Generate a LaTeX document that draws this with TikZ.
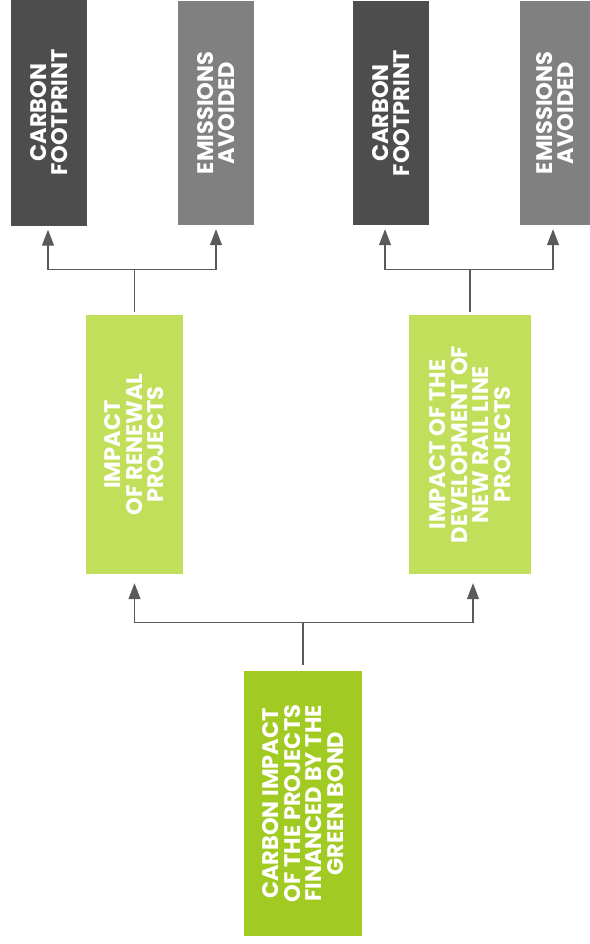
\documentclass[tikz,border=0pt]{standalone}
\usepackage{fontspec}
\setmainfont{Poppins}
\usetikzlibrary{arrows.meta}
\definecolor{darkbox}{HTML}{4D4D4D}
\definecolor{midbox}{HTML}{808080}
\definecolor{lightgreen}{HTML}{C2DF5B}
\definecolor{maingreen}{HTML}{A1CA23}
\definecolor{conn}{HTML}{5A5A5A}
\begin{document}
\begin{tikzpicture}[x=1pt,y=-1pt,
  box/.style={rotate=90, inner sep=0pt, align=center, text=white,
    font=\fontsize{22.5}{21.5}\selectfont\bfseries},
  arr/.style={draw=conn, line width=1.3pt,
    -{Triangle[length=16pt,width=12pt]}, shorten >=#1},
  arr/.default=4pt]
\useasboundingbox (0,0) rectangle (589,944);
% top boxes (rotated: minimum width = vertical extent)
\node[box, fill=darkbox, minimum width=226pt, minimum height=76pt] (cf1) at (49,112.5) {CARBON\\FOOTPRINT};
\node[box, fill=midbox, minimum width=224pt, minimum height=76pt] (ea1) at (216,113) {EMISSIONS\\AVOIDED};
\node[box, fill=darkbox, minimum width=224pt, minimum height=76pt] (cf2) at (391,113) {CARBON\\FOOTPRINT};
\node[box, fill=midbox, minimum width=224pt, minimum height=70pt] (ea2) at (555,113) {EMISSIONS\\AVOIDED};
% middle boxes
\node[box, fill=lightgreen, minimum width=259pt, minimum height=97pt] (ren) at (134.5,444.5) {IMPACT\\OF RENEWAL\\PROJECTS};
\node[box, fill=lightgreen, minimum width=259pt, minimum height=122pt] (rail) at (470,444.5) {IMPACT OF THE\\DEVELOPMENT OF\\NEW RAIL LINE\\PROJECTS};
% bottom box
\node[box, fill=maingreen, minimum width=265pt, minimum height=118pt] (bond) at (303,803.5) {CARBON IMPACT\\OF THE PROJECTS\\FINANCED BY THE\\GREEN BOND};
% connectors
\draw[arr] ([yshift=3pt]ren.east) -- ++(0,-42) -| ([xshift=-1pt]cf1.west);
\draw[arr] ([yshift=3pt]ren.east) -- ++(0,-42) -| (ea1.west);
\draw[arr] ([yshift=3pt]rail.east) -- ++(0,-42) -| ([xshift=-6pt]cf2.west);
\draw[arr] ([yshift=3pt]rail.east) -- ++(0,-42) -| ([xshift=-2pt]ea2.west);
\draw[arr=9pt] ([yshift=6pt]bond.east) -- ++(0,-42) -| (ren.west);
\draw[arr=9pt] ([yshift=6pt]bond.east) -- ++(0,-42) -| ([xshift=3pt]rail.west);
\end{tikzpicture}
\end{document}
